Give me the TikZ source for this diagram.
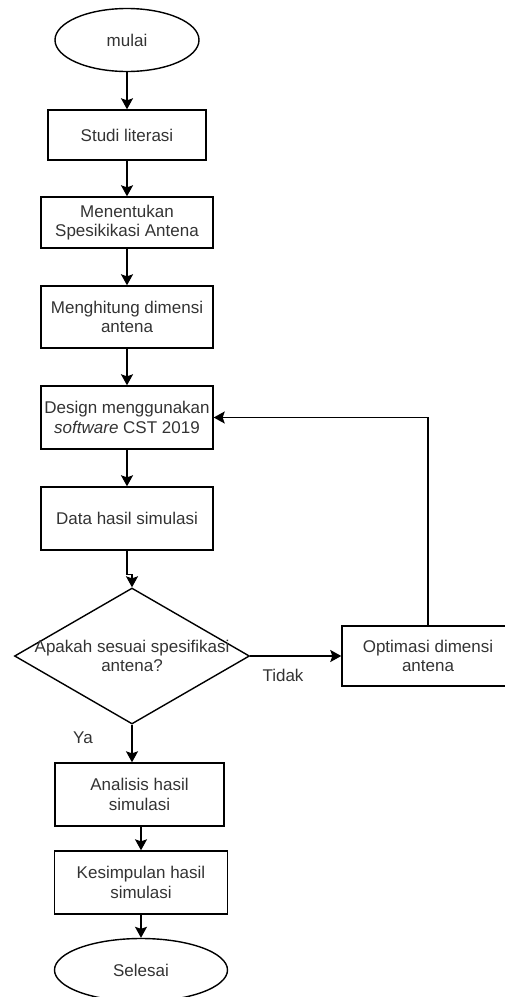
\documentclass[tikz,border=0pt]{standalone}
\usepackage{fontspec}
\setmainfont{Liberation Sans}
\usetikzlibrary{shapes.geometric,arrows.meta}
\begin{document}
\begin{tikzpicture}[x=1pt,y=-1pt,line width=1.4pt,
  every node/.style={text=black!80,font=\fontsize{17}{19.5}\selectfont},
  proses/.style={draw=black,rectangle,minimum height=63pt,inner sep=0pt,align=center},
  ujung/.style={draw=black,ellipse,minimum width=144pt,minimum height=63pt,inner sep=0pt},
  keputusan/.style={draw=black,diamond,minimum width=235pt,minimum height=136pt,inner sep=0pt},
  panah/.style={-{Stealth[length=11pt,width=12pt,inset=2pt]}}]
\useasboundingbox (0,0) rectangle (505,997);
\def\kiri{127}
\def\bawah{141}

\node[ujung] (mulai) at (\kiri,40) {mulai};
\node[proses,minimum width=158pt,minimum height=50pt] (studi) at (\kiri,135) {Studi literasi};
\node[proses,minimum width=172pt,minimum height=51pt] (spek) at (\kiri,222.5) {Menentukan\\Spesikikasi Antena};
\node[proses,minimum width=172pt,minimum height=62pt] (hitung) at (\kiri,317) {Menghitung dimensi\\antena};
\node[proses,minimum width=172pt] (desain) at (\kiri,417.5) {Design menggunakan\\\textit{software} CST 2019};
\node[proses,minimum width=172pt] (data) at (\kiri,518.5) {Data hasil simulasi};
\node[keputusan,label={[align=center]center:Apakah sesuai spesifikasi\\antena?}] (cek) at (132,656) {};
\node[proses,minimum width=172pt,minimum height=60pt] (optimasi) at (428,656) {Optimasi dimensi\\antena};
\node[proses,minimum width=169pt] (analisis) at (139.5,794.5) {Analisis hasil\\simulasi};
\node[proses,minimum width=173pt] (simpul) at (\bawah,882.5) {Kesimpulan hasil\\simulasi};
\node[ujung,minimum width=173pt] (selesai) at (\bawah,970) {Selesai};
\node (tidak) at (283,675) {Tidak};
\node (ya) at (83,738) {Ya};

\draw[panah] (mulai) -- (studi);
\draw[panah] (studi) -- (spek);
\draw[panah] (spek) -- (hitung);
\draw[panah] (hitung) -- (desain);
\draw[panah] (desain) -- (data);
\draw[panah] (data.south) -- ++(0,24) -| (cek.north);
\draw[panah] (cek.east) -- (optimasi.west);
\draw[panah] (optimasi.north) |- (desain.east);
\draw[panah] (cek.south) -- (cek.south |- analisis.north);
\draw[panah] (analisis.south -| simpul.north) -- (simpul.north);
\draw[panah] (simpul) -- (selesai);

\end{tikzpicture}
\end{document}
